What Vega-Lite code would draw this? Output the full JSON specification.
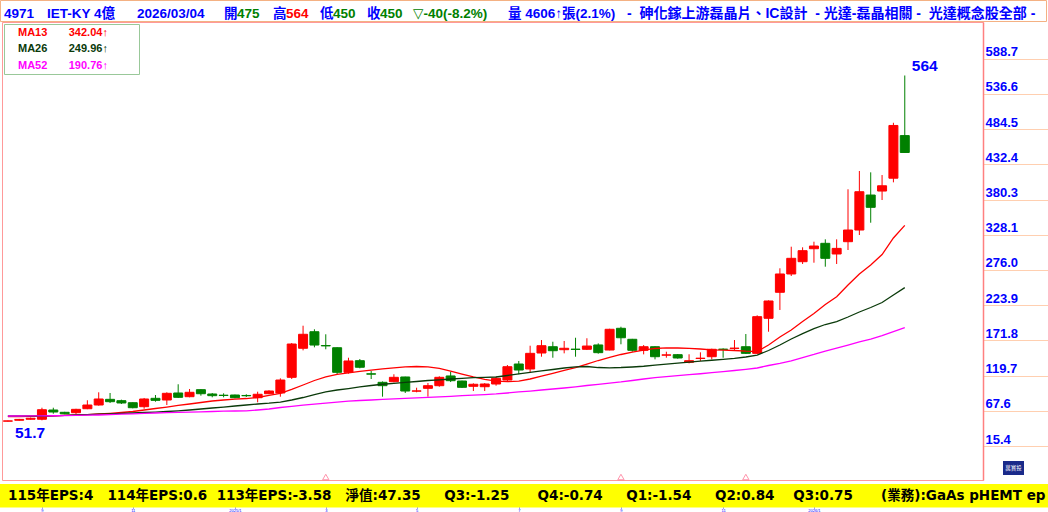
{
"$schema": "https://vega.github.io/schema/vega-lite/v6.json",
"width": 981, "height": 458,
"autosize": {"type": "none"},
"padding": {"left": 2, "top": 22, "right": 65, "bottom": 32},
"background": "#ffffff",
"config": {"view": {"stroke": "#ff9999", "strokeWidth": 1}},
"datasets": {
"weekly": [
{"d":"2024-08-26","o":52.2,"h":53,"l":51.7,"c":52.6,"m13":58.8,"m26":59.8,"m52":59.8},
{"d":"2024-09-02","o":53.5,"h":55.5,"l":53,"c":54.8,"m13":59.1,"m26":59.8,"m52":59.8},
{"d":"2024-09-09","o":55,"h":57.5,"l":54.5,"c":56.5,"m13":59.4,"m26":59.8,"m52":59.9},
{"d":"2024-09-16","o":55,"h":72.1,"l":53.4,"c":69.1,"m13":59.8,"m26":59.8,"m52":60.1},
{"d":"2024-09-23","o":68.7,"h":72.1,"l":63.2,"c":65.7,"m13":60.1,"m26":60.1,"m52":60.2},
{"d":"2024-09-30","o":65.3,"h":66,"l":62.5,"c":63.2,"m13":60.6,"m26":60.6,"m52":60.4},
{"d":"2024-10-07","o":64.7,"h":70.5,"l":62.8,"c":69.7,"m13":61.3,"m26":61.3,"m52":60.7},
{"d":"2024-10-14","o":70.6,"h":83.1,"l":69.9,"c":76.1,"m13":62.0,"m26":62.0,"m52":61.0},
{"d":"2024-10-21","o":76.1,"h":94.9,"l":75.1,"c":85,"m13":62.8,"m26":62.5,"m52":61.3},
{"d":"2024-10-28","o":84.5,"h":93.9,"l":79.1,"c":81,"m13":63.8,"m26":63.1,"m52":61.9},
{"d":"2024-11-04","o":82.5,"h":84,"l":77.6,"c":79.1,"m13":65.0,"m26":63.7,"m52":62.5},
{"d":"2024-11-11","o":79.5,"h":80,"l":71.2,"c":72.1,"m13":66.5,"m26":64.3,"m52":63.1},
{"d":"2024-11-18","o":73.6,"h":86.5,"l":70.6,"c":85,"m13":68.7,"m26":65.0,"m52":63.7},
{"d":"2024-11-25","o":86,"h":90.9,"l":81,"c":83,"m13":70.9,"m26":65.7,"m52":64.3},
{"d":"2024-12-02","o":83.5,"h":94.9,"l":76.1,"c":93.4,"m13":73.1,"m26":66.5,"m52":64.7},
{"d":"2024-12-09","o":93.9,"h":106.8,"l":86.5,"c":87.5,"m13":75.4,"m26":67.5,"m52":65.1},
{"d":"2024-12-16","o":88.4,"h":99.8,"l":87.5,"c":94.9,"m13":77.6,"m26":68.7,"m52":65.6},
{"d":"2024-12-23","o":98.8,"h":99.5,"l":89.9,"c":92.8,"m13":79.8,"m26":70.2,"m52":66.0},
{"d":"2024-12-30","o":92.4,"h":93.9,"l":87.5,"c":89.9,"m13":82.0,"m26":71.7,"m52":66.5},
{"d":"2025-01-06","o":90.6,"h":93.4,"l":87.5,"c":90.2,"m13":83.5,"m26":73.1,"m52":66.9},
{"d":"2025-01-13","o":90.9,"h":91.5,"l":86,"c":86.9,"m13":84.7,"m26":74.6,"m52":67.2},
{"d":"2025-01-20","o":90.2,"h":92,"l":88,"c":89.8,"m13":85.7,"m26":76.1,"m52":67.5},
{"d":"2025-01-27","o":86.9,"h":95.8,"l":80.1,"c":92,"m13":87.2,"m26":77.6,"m52":68.7},
{"d":"2025-02-03","o":92.8,"h":98,"l":92.4,"c":96.8,"m13":90.2,"m26":78.8,"m52":70.2},
{"d":"2025-02-10","o":93.9,"h":115.6,"l":88.4,"c":113.1,"m13":93.4,"m26":80.5,"m52":72.4},
{"d":"2025-02-17","o":117.1,"h":167.9,"l":114.6,"c":166.4,"m13":99.1,"m26":83.5,"m52":74.2},
{"d":"2025-02-24","o":160.1,"h":193.5,"l":157,"c":180.8,"m13":105.7,"m26":87.2,"m52":75.8},
{"d":"2025-03-03","o":184.6,"h":188.2,"l":161.5,"c":164.9,"m13":112.4,"m26":91.6,"m52":77.3},
{"d":"2025-03-10","o":164.2,"h":180.8,"l":158.6,"c":163.6,"m13":117.6,"m26":95.4,"m52":78.8},
{"d":"2025-03-17","o":160.9,"h":161.5,"l":121.6,"c":124.5,"m13":121.3,"m26":98.3,"m52":80.3},
{"d":"2025-03-24","o":124.5,"h":146.1,"l":122.5,"c":141.3,"m13":123.8,"m26":100.5,"m52":81.7},
{"d":"2025-03-31","o":141.7,"h":144.2,"l":130.4,"c":132,"m13":126.0,"m26":102.8,"m52":82.8},
{"d":"2025-04-07","o":122.3,"h":126.4,"l":114.6,"c":121.8,"m13":127.9,"m26":105,"m52":83.5},
{"d":"2025-04-14","o":109.7,"h":111,"l":88.4,"c":104.7,"m13":129.7,"m26":106.8,"m52":84.4},
{"d":"2025-04-21","o":110.6,"h":121.6,"l":109.7,"c":117.1,"m13":131.2,"m26":108.2,"m52":85.3},
{"d":"2025-04-28","o":117.6,"h":118,"l":93.9,"c":96.8,"m13":132.7,"m26":109.7,"m52":86.0},
{"d":"2025-05-05","o":96.6,"h":101.7,"l":94.9,"c":97,"m13":133.1,"m26":110.9,"m52":86.8},
{"d":"2025-05-12","o":100.8,"h":108.7,"l":88.4,"c":104.7,"m13":132.7,"m26":112.4,"m52":87.5},
{"d":"2025-05-19","o":104.7,"h":118.6,"l":103.2,"c":117.1,"m13":130.2,"m26":113.4,"m52":88.2},
{"d":"2025-05-26","o":119.1,"h":125.4,"l":110.1,"c":112.1,"m13":126.4,"m26":114.6,"m52":89.0},
{"d":"2025-06-02","o":111.6,"h":112.1,"l":101.3,"c":102.3,"m13":122.0,"m26":115.6,"m52":89.9},
{"d":"2025-06-09","o":103.8,"h":108.2,"l":96.8,"c":106.8,"m13":117.6,"m26":116.5,"m52":90.8},
{"d":"2025-06-16","o":103.2,"h":108.5,"l":96.8,"c":107.2,"m13":113.9,"m26":117.1,"m52":91.6},
{"d":"2025-06-23","o":107.2,"h":118.1,"l":104.7,"c":115.6,"m13":111.6,"m26":117.6,"m52":92.5},
{"d":"2025-06-30","o":113.1,"h":135.3,"l":111.6,"c":132.8,"m13":110.6,"m26":119.8,"m52":93.9},
{"d":"2025-07-07","o":136.8,"h":141.3,"l":121.6,"c":127.9,"m13":111.6,"m26":122.3,"m52":95.4},
{"d":"2025-07-14","o":129.4,"h":163.9,"l":124.5,"c":152.6,"m13":114.6,"m26":124.5,"m52":96.8},
{"d":"2025-07-21","o":153.1,"h":172.3,"l":147.6,"c":163.9,"m13":118.7,"m26":126.7,"m52":98.3},
{"d":"2025-07-28","o":162.4,"h":169.8,"l":146.1,"c":156.5,"m13":123.0,"m26":128.7,"m52":99.8},
{"d":"2025-08-04","o":158,"h":170.9,"l":152.6,"c":160.1,"m13":127.5,"m26":130.9,"m52":101.3},
{"d":"2025-08-11","o":158.8,"h":175.7,"l":147.6,"c":158.4,"m13":131.6,"m26":132.7,"m52":103.0},
{"d":"2025-08-18","o":158.6,"h":174.9,"l":157.5,"c":163.4,"m13":136.8,"m26":133.1,"m52":105.0},
{"d":"2025-08-25","o":165,"h":167.4,"l":152.1,"c":153.6,"m13":142.0,"m26":131.6,"m52":106.8},
{"d":"2025-09-01","o":157.5,"h":189,"l":157,"c":188.2,"m13":146.7,"m26":131.2,"m52":108.4},
{"d":"2025-09-08","o":189.7,"h":192,"l":166,"c":175.7,"m13":150.9,"m26":131.6,"m52":110.2},
{"d":"2025-09-15","o":173.4,"h":174,"l":155,"c":157.1,"m13":154.3,"m26":132.4,"m52":112.4},
{"d":"2025-09-22","o":157.1,"h":164.9,"l":151.1,"c":162.4,"m13":157.2,"m26":133.5,"m52":114.6},
{"d":"2025-09-29","o":162.4,"h":163,"l":143.7,"c":147.6,"m13":159.8,"m26":135.0,"m52":116.5},
{"d":"2025-10-06","o":149.9,"h":155,"l":146.1,"c":150.3,"m13":160.8,"m26":136.5,"m52":118.0},
{"d":"2025-10-13","o":150.6,"h":151.6,"l":144.7,"c":145.7,"m13":160.5,"m26":138.0,"m52":119.5},
{"d":"2025-10-20","o":139.3,"h":151.2,"l":137.8,"c":141.7,"m13":159.9,"m26":139.5,"m52":121.0},
{"d":"2025-10-27","o":145,"h":154.1,"l":141.3,"c":145.4,"m13":159.0,"m26":141.0,"m52":122.4},
{"d":"2025-11-03","o":147.6,"h":159.5,"l":143.7,"c":158.6,"m13":157.8,"m26":142.4,"m52":123.9},
{"d":"2025-11-10","o":158.8,"h":160,"l":146.1,"c":158.4,"m13":157.5,"m26":143.8,"m52":125.4},
{"d":"2025-11-17","o":159.9,"h":172.3,"l":157.5,"c":160.3,"m13":156.8,"m26":145.2,"m52":127.2},
{"d":"2025-11-24","o":162.4,"h":181.2,"l":151.6,"c":152.6,"m13":155.8,"m26":147.2,"m52":129.0},
{"d":"2025-12-01","o":152.6,"h":208.9,"l":151.6,"c":206.9,"m13":155.3,"m26":150.1,"m52":130.9},
{"d":"2025-12-08","o":204.5,"h":231,"l":184.6,"c":230.1,"m13":164.9,"m26":156.8,"m52":134.6},
{"d":"2025-12-15","o":243,"h":278.5,"l":216.8,"c":270.1,"m13":176.8,"m26":164.9,"m52":137.6},
{"d":"2025-12-22","o":270.1,"h":310.5,"l":267.1,"c":293.3,"m13":187.1,"m26":173.8,"m52":141.3},
{"d":"2025-12-29","o":288.3,"h":309.6,"l":284.9,"c":304.6,"m13":199.7,"m26":181.9,"m52":146.4},
{"d":"2026-01-05","o":307.5,"h":317.9,"l":286.8,"c":311.5,"m13":211.6,"m26":189.3,"m52":150.9},
{"d":"2026-01-12","o":315.5,"h":321.4,"l":280.9,"c":293.3,"m13":224.9,"m26":195.3,"m52":156.0},
{"d":"2026-01-19","o":299.7,"h":321.4,"l":284.9,"c":308,"m13":236.5,"m26":199.7,"m52":160.5},
{"d":"2026-01-26","o":317.9,"h":395.5,"l":305.6,"c":335.2,"m13":253.8,"m26":206.4,"m52":164.9},
{"d":"2026-02-02","o":335.2,"h":422.6,"l":327.8,"c":391.9,"m13":270.1,"m26":213.8,"m52":169.4},
{"d":"2026-02-09","o":387,"h":420.6,"l":346,"c":368.8,"m13":283.4,"m26":220.5,"m52":173.8},
{"d":"2026-02-16","o":392.9,"h":416.6,"l":379.6,"c":400.7,"m13":298.9,"m26":227.9,"m52":179.0},
{"d":"2026-02-23","o":411.9,"h":494,"l":405.8,"c":490,"m13":323.4,"m26":239.0,"m52":184.9},
{"d":"2026-03-02","o":475,"h":564,"l":450,"c":450,"m13":342.04,"m26":249.96,"m52":190.76}
]
},
"layer": [
{
"data": {"name": "weekly"},
"mark": {"type": "rule", "strokeWidth": 1},
"encoding": {
"x": {"field": "d", "type": "temporal", "scale": {"type": "utc", "domain": [{"year":2024,"month":8,"date":25,"hours":10,"minutes":49,"utc":true},{"year":2026,"month":4,"date":16,"hours":3,"minutes":36,"utc":true}]},
 "axis": {"orient": "bottom", "offset": 27, "title": null, "domain": false, "grid": false,
  "values": [{"year":2024,"month":9,"date":16,"utc":true},{"year":2024,"month":11,"date":11,"utc":true},{"year":2025,"month":1,"date":13,"utc":true},{"year":2025,"month":3,"date":10,"utc":true},{"year":2025,"month":5,"date":5,"utc":true},{"year":2025,"month":7,"date":7,"utc":true},{"year":2025,"month":9,"date":8,"utc":true},{"year":2025,"month":11,"date":10,"utc":true},{"year":2026,"month":1,"date":5,"utc":true}],
  "labelExpr": "utcFormat(datum.value, utcmonth(datum.value) == 0 ? '%Y/%-m' : '%-m')",
  "tickColor": "#3030ff", "tickSize": 1, "labelColor": "#0000ff", "labelFont": "Liberation Sans", "labelFontSize": 4, "labelPadding": 0, "labelFlush": false, "labelOverlap": false}},
"y": {"field": "l", "type": "quantitative", "scale": {"domain": [-34.94, 643.2], "nice": false, "zero": false},
 "axis": {"orient": "right", "title": null, "grid": false, "values": [15.4,67.6,119.7,171.8,223.9,276.0,328.1,380.3,432.4,484.5,536.6,588.7], "format": ".1f",
  "domainColor": "#ff8080", "domainWidth": 1.5, "tickColor": "#ffcfb0", "tickSize": 65, "tickWidth": 1,
  "labelColor": "#0000ff", "labelFont": "Liberation Sans", "labelFontSize": 13, "labelFontWeight": "bold", "labelAlign": "left", "labelBaseline": "alphabetic", "labelPadding": -63, "labelOffset": -3, "labelOverlap": false, "labelFlush": false, "labelBound": false}},
"y2": {"field": "h"},
"color": {"condition": {"test": "datum.c >= datum.o", "value": "#ff0000"}, "value": "#008000"}
}
},
{
"data": {"name": "weekly"},
"mark": {"type": "bar", "size": 9, "strokeWidth": 1},
"encoding": {
"x": {"field": "d", "type": "temporal", "scale": {"type": "utc", "domain": [{"year":2024,"month":8,"date":25,"hours":10,"minutes":49,"utc":true},{"year":2026,"month":4,"date":16,"hours":3,"minutes":36,"utc":true}]}},
"y": {"field": "o", "type": "quantitative", "scale": {"domain": [-34.94, 643.2], "nice": false, "zero": false}},
"y2": {"field": "c"},
"color": {"condition": {"test": "datum.c >= datum.o", "value": "#ff0000"}, "value": "#008000"},
"stroke": {"condition": {"test": "datum.c >= datum.o", "value": "#ff0000"}, "value": "#008000"}
}
},
{
"data": {"name": "weekly"},
"transform": [{"fold": ["m13", "m26", "m52"], "as": ["s", "v"]}],
"mark": {"type": "line", "strokeWidth": 1.3},
"encoding": {
"x": {"field": "d", "type": "temporal", "scale": {"type": "utc", "domain": [{"year":2024,"month":8,"date":25,"hours":10,"minutes":49,"utc":true},{"year":2026,"month":4,"date":16,"hours":3,"minutes":36,"utc":true}]}},
"y": {"field": "v", "type": "quantitative", "scale": {"domain": [-34.94, 643.2], "nice": false, "zero": false}},
"color": {"field": "s", "type": "nominal", "scale": {"domain": ["m13", "m26", "m52"], "range": ["#ff0000", "#0a3a0a", "#ff00ff"]},
 "legend": {"title": null, "orient": "top-left", "offset": 2, "padding": 3, "strokeColor": "#99c899", "fillColor": "#ffffff", "cornerRadius": 0,
  "symbolSize": 0, "symbolOpacity": 0, "symbolStrokeWidth": 0, "labelOffset": 0, "rowPadding": 4.5,
  "labelFont": "Liberation Sans", "labelFontSize": 11, "labelFontWeight": "bold", "labelLimit": 400,
  "labelExpr": "datum.value == 'm13' ? 'MA13\u00a0\u00a0\u00a0\u00a0\u00a0\u00a0\u00a0342.04↑\u00a0\u00a0\u00a0\u00a0\u00a0\u00a0\u00a0\u00a0\u00a0\u200b' : datum.value == 'm26' ? 'MA26\u00a0\u00a0\u00a0\u00a0\u00a0\u00a0\u00a0249.96↑' : 'MA52\u00a0\u00a0\u00a0\u00a0\u00a0\u00a0\u00a0190.76↑'",
  "labelColor": {"expr": "datum.value == 'm13' ? '#ff0000' : datum.value == 'm26' ? '#0a3a0a' : '#ff00ff'"}}}
}
},
{
"data": {"values": [{"d": "2025-03-10"}, {"d": "2025-09-08"}, {"d": "2025-11-24"}]},
"mark": {"type": "point", "shape": "triangle-up", "filled": false, "size": 40, "strokeWidth": 1, "color": "#ff6688"},
"encoding": {
"x": {"field": "d", "type": "temporal", "scale": {"type": "utc", "domain": [{"year":2024,"month":8,"date":25,"hours":10,"minutes":49,"utc":true},{"year":2026,"month":4,"date":16,"hours":3,"minutes":36,"utc":true}]}},
"y": {"datum": -30.5, "type": "quantitative", "scale": {"domain": [-34.94, 643.2], "nice": false, "zero": false}}
}
},
{
"data": {"values": [{"d": "2026-03-02", "p": 564, "t": "564"}]},
"mark": {"type": "text", "align": "left", "baseline": "alphabetic", "dx": 7, "dy": -4, "font": "Liberation Sans", "fontSize": 15.5, "fontWeight": "bold", "color": "#0000ff"},
"encoding": {
"x": {"field": "d", "type": "temporal", "scale": {"type": "utc", "domain": [{"year":2024,"month":8,"date":25,"hours":10,"minutes":49,"utc":true},{"year":2026,"month":4,"date":16,"hours":3,"minutes":36,"utc":true}]}},
"y": {"field": "p", "type": "quantitative", "scale": {"domain": [-34.94, 643.2], "nice": false, "zero": false}},
"text": {"field": "t"}
}
},
{
"data": {"values": [{"d": "2024-08-26", "p": 51.7, "t": "51.7"}]},
"mark": {"type": "text", "align": "left", "baseline": "alphabetic", "dx": 7, "dy": 17, "font": "Liberation Sans", "fontSize": 15.5, "fontWeight": "bold", "color": "#0000ff"},
"encoding": {
"x": {"field": "d", "type": "temporal", "scale": {"type": "utc", "domain": [{"year":2024,"month":8,"date":25,"hours":10,"minutes":49,"utc":true},{"year":2026,"month":4,"date":16,"hours":3,"minutes":36,"utc":true}]}},
"y": {"field": "p", "type": "quantitative", "scale": {"domain": [-34.94, 643.2], "nice": false, "zero": false}},
"text": {"field": "t"}
}
},
{
"data": {"values": [{}]},
"mark": {"type": "rect", "fill": "#ffffff", "stroke": "#f4b183", "strokeWidth": 1},
"encoding": {"x": {"value": -1.5}, "x2": {"value": 1044.5}, "y": {"value": -21.5}, "y2": {"value": -0.5}}
},
{
"data": {"values": [{}]},
"mark": {"type": "text", "align": "left", "baseline": "alphabetic", "font": "Liberation Sans, Noto Sans CJK TC", "fontSize": 13.5, "fontWeight": "bold", "color": "#0000ff"},
"encoding": {"x": {"value": 2}, "y": {"value": -4.5}, "text": {"value": "4971"}}
},
{
"data": {"values": [{}]},
"mark": {"type": "text", "align": "left", "baseline": "alphabetic", "font": "Liberation Sans, Noto Sans CJK TC", "fontSize": 13.5, "fontWeight": "bold", "color": "#0000ff"},
"encoding": {"x": {"value": 45}, "y": {"value": -4.5}, "text": {"value": "IET-KY 4億"}}
},
{
"data": {"values": [{}]},
"mark": {"type": "text", "align": "left", "baseline": "alphabetic", "font": "Liberation Sans, Noto Sans CJK TC", "fontSize": 13.5, "fontWeight": "bold", "color": "#0000ff"},
"encoding": {"x": {"value": 135}, "y": {"value": -4.5}, "text": {"value": "2026/03/04"}}
},
{
"data": {"values": [{}]},
"mark": {"type": "text", "align": "left", "baseline": "alphabetic", "font": "Liberation Sans, Noto Sans CJK TC", "fontSize": 13.5, "fontWeight": "bold", "color": "#0000ff"},
"encoding": {"x": {"value": 222}, "y": {"value": -4.5}, "text": {"value": "開"}}
},
{
"data": {"values": [{}]},
"mark": {"type": "text", "align": "left", "baseline": "alphabetic", "font": "Liberation Sans, Noto Sans CJK TC", "fontSize": 13.5, "fontWeight": "bold", "color": "#008000"},
"encoding": {"x": {"value": 235}, "y": {"value": -4.5}, "text": {"value": "475"}}
},
{
"data": {"values": [{}]},
"mark": {"type": "text", "align": "left", "baseline": "alphabetic", "font": "Liberation Sans, Noto Sans CJK TC", "fontSize": 13.5, "fontWeight": "bold", "color": "#0000ff"},
"encoding": {"x": {"value": 271}, "y": {"value": -4.5}, "text": {"value": "高"}}
},
{
"data": {"values": [{}]},
"mark": {"type": "text", "align": "left", "baseline": "alphabetic", "font": "Liberation Sans, Noto Sans CJK TC", "fontSize": 13.5, "fontWeight": "bold", "color": "#ff0000"},
"encoding": {"x": {"value": 284}, "y": {"value": -4.5}, "text": {"value": "564"}}
},
{
"data": {"values": [{}]},
"mark": {"type": "text", "align": "left", "baseline": "alphabetic", "font": "Liberation Sans, Noto Sans CJK TC", "fontSize": 13.5, "fontWeight": "bold", "color": "#0000ff"},
"encoding": {"x": {"value": 318}, "y": {"value": -4.5}, "text": {"value": "低"}}
},
{
"data": {"values": [{}]},
"mark": {"type": "text", "align": "left", "baseline": "alphabetic", "font": "Liberation Sans, Noto Sans CJK TC", "fontSize": 13.5, "fontWeight": "bold", "color": "#008000"},
"encoding": {"x": {"value": 331}, "y": {"value": -4.5}, "text": {"value": "450"}}
},
{
"data": {"values": [{}]},
"mark": {"type": "text", "align": "left", "baseline": "alphabetic", "font": "Liberation Sans, Noto Sans CJK TC", "fontSize": 13.5, "fontWeight": "bold", "color": "#0000ff"},
"encoding": {"x": {"value": 365}, "y": {"value": -4.5}, "text": {"value": "收"}}
},
{
"data": {"values": [{}]},
"mark": {"type": "text", "align": "left", "baseline": "alphabetic", "font": "Liberation Sans, Noto Sans CJK TC", "fontSize": 13.5, "fontWeight": "bold", "color": "#008000"},
"encoding": {"x": {"value": 378}, "y": {"value": -4.5}, "text": {"value": "450"}}
},
{
"data": {"values": [{}]},
"mark": {"type": "text", "align": "left", "baseline": "alphabetic", "font": "Liberation Sans, DejaVu Sans", "fontSize": 13.5, "fontWeight": "bold", "color": "#008000"},
"encoding": {"x": {"value": 411}, "y": {"value": -4.5}, "text": {"value": "▽-40(-8.2%)"}}
},
{
"data": {"values": [{}]},
"mark": {"type": "text", "align": "left", "baseline": "alphabetic", "font": "Liberation Sans, Noto Sans CJK TC", "fontSize": 13.5, "fontWeight": "bold", "color": "#0000ff"},
"encoding": {"x": {"value": 506}, "y": {"value": -4.5}, "text": {"value": "量\u00a04606↑張(2.1%)"}}
},
{
"data": {"values": [{}]},
"mark": {"type": "text", "align": "left", "baseline": "alphabetic", "font": "Liberation Sans, Noto Sans CJK TC", "fontSize": 14, "fontWeight": "bold", "color": "#0000ff"},
"encoding": {"x": {"value": 625}, "y": {"value": -4.5}, "text": {"value": "-\u00a0\u00a0砷化鎵上游磊晶片、IC設計\u00a0\u00a0-\u00a0光達-磊晶相關\u00a0-\u00a0\u00a0光達概念股全部\u00a0-"}}
},
{
"data": {"values": [{}]},
"mark": {"type": "rect", "fill": "#ffff00"},
"encoding": {"x": {"value": -2}, "x2": {"value": 1046}, "y": {"value": 462}, "y2": {"value": 485.5}}
},
{
"data": {"values": [{}]},
"mark": {"type": "text", "align": "left", "baseline": "alphabetic", "font": "DejaVu Sans, Noto Sans CJK TC", "fontSize": 13.5, "fontWeight": "bold", "color": "#000000"},
"encoding": {"x": {"value": 6}, "y": {"value": 478}, "text": {"value": "115年EPS:4\u00a0\u00a0\u00a0114年EPS:0.6\u00a0\u00a0113年EPS:-3.58\u00a0\u00a0\u00a0淨值:47.35\u00a0\u00a0\u00a0\u00a0\u00a0Q3:-1.25\u00a0\u00a0\u00a0\u00a0\u00a0\u00a0Q4:-0.74\u00a0\u00a0\u00a0\u00a0\u00a0Q1:-1.54\u00a0\u00a0\u00a0\u00a0\u00a0Q2:0.84\u00a0\u00a0\u00a0\u00a0Q3:0.75\u00a0\u00a0\u00a0\u00a0\u00a0\u00a0(業務):GaAs pHEMT ep"}}
},
{
"data": {"values": [{}]},
"mark": {"type": "rect", "fill": "#1a2a8a"},
"encoding": {"x": {"value": 1001}, "x2": {"value": 1022}, "y": {"value": 439}, "y2": {"value": 453}}
},
{
"data": {"values": [{}]},
"mark": {"type": "text", "align": "center", "baseline": "middle", "font": "Noto Sans CJK TC", "fontSize": 5.5, "color": "#ffffff"},
"encoding": {"x": {"value": 1011.5}, "y": {"value": 446}, "text": {"value": "萬寶投"}}
}
]
}
